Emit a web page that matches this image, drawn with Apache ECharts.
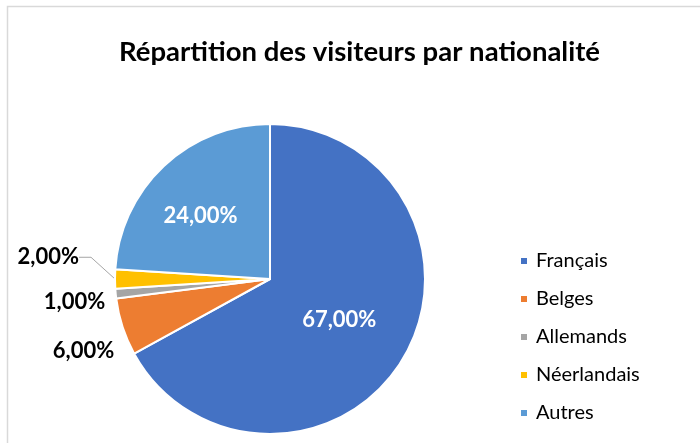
<!DOCTYPE html>
<html>
<head>
<meta charset="utf-8">
<script src="https://cdn.jsdelivr.net/npm/echarts@6/dist/echarts.min.js"></script>
<style>
  html, body { margin: 0; padding: 0; background: #fff; }
  #chart { width: 700px; height: 443px; }
</style>
</head>
<body>
<div id="chart"></div>
<script>
// donnees
var categories = ['Français', 'Belges', 'Allemands', 'Néerlandais', 'Autres']
var values = [67, 6, 1, 2, 24]
var colors = ['#4472C4', '#ED7D31', '#A5A5A5', '#FFC000', '#5B9BD5']
// etiquettes dedans (blanc) ou dehors (noir)
var insideLabel = [true, false, false, false, true]
var showLeader = [false, false, false, true, false]

var myChart = echarts.init(document.getElementById('chart'))

var pieData = categories.map(function (name, i) {
  return {
    name: name,
    value: values[i],
    itemStyle: { color: colors[i] },
    label: {
      position: insideLabel[i] ? 'inside' : 'outside',
      color: insideLabel[i] ? '#fff' : '#000'
    },
    labelLine: { show: showLeader[i] }
  }
})

// petits decalages des etiquettes, relatifs au secteur
function placeLabel (params) {
  var r = params.rect
  var idx = params.dataIndex
  if (idx === 1) {
    return { x: r.x - 1, y: r.y + r.height - 4, align: 'right', verticalAlign: 'middle' }
  }
  if (idx === 2) {
    return { x: r.x - 9, y: r.y + r.height + 2, align: 'right', verticalAlign: 'middle' }
  }
  if (idx === 3) {
    return { x: r.x - 35, y: r.y - 11, align: 'right', verticalAlign: 'middle' }
  }
  if (idx === 4) {
    return { x: r.x + r.width * 0.55, y: r.y + r.height * 0.59, align: 'center', verticalAlign: 'middle' }
  }
  return {}
}

var option = {
  animation: false,
  backgroundColor: '#fff',
  title: {
    text: 'Répartition des visiteurs par nationalité',
    left: 114,
    top: 33,
    textStyle: {
      fontFamily: 'Lato',
      fontWeight: 'bold',
      fontSize: 27.5,
      color: '#000'
    }
  },
  legend: {
    orient: 'vertical',
    left: 519,
    top: 250,
    padding: 0,
    icon: 'rect',
    itemWidth: 8,
    itemHeight: 8,
    itemGap: 16,
    textStyle: {
      fontFamily: 'Lato',
      fontSize: 20,
      lineHeight: 22,
      padding: [0, 0, 0, 3],
      color: '#000'
    },
    data: categories
  },
  graphic: [
    {
      type: 'rect',
      shape: { x: 7.5, y: 6.5, width: 720, height: 460 },
      style: { fill: 'none', stroke: '#d9d9d9', lineWidth: 1.5 },
      silent: true
    }
  ],
  series: [
    {
      type: 'pie',
      center: [270, 279],
      radius: 155,
      startAngle: 90,
      clockwise: true,
      avoidLabelOverlap: false,
      itemStyle: { borderColor: '#fff', borderWidth: 2 },
      label: {
        fontFamily: 'Lato',
        fontWeight: 'bold',
        fontSize: 22,
        formatter: function (p) {
          return p.percent.toFixed(2).replace('.', ',') + '%'
        }
      },
      labelLine: {
        length: 12,
        length2: 12,
        lineStyle: { color: '#a6a6a6', width: 1 }
      },
      labelLayout: placeLabel,
      data: pieData
    }
  ]
}

myChart.setOption(option)
</script>
</body>
</html>
